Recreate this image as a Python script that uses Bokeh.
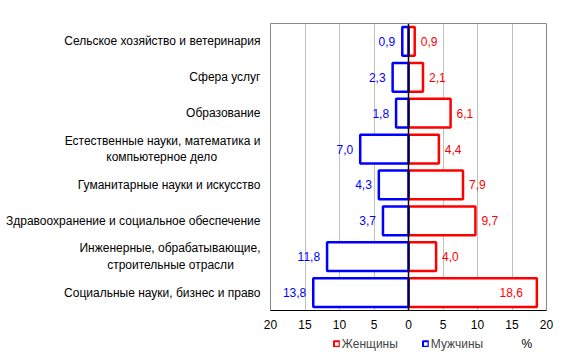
from bokeh.plotting import figure
from bokeh.models import (ColumnDataSource, FactorRange, FixedTicker, Span, Legend,
                          LegendItem)
from bokeh.layouts import column
from bokeh.core.properties import value
from bokeh.embed import file_html
from bokeh.resources import INLINE

categories = [
    "Сельское хозяйство и ветеринария",
    "Сфера услуг",
    "Образование",
    "Естественные науки, математика и\nкомпьютерное дело",
    "Гуманитарные науки и искусство",
    "Здравоохранение и социальное обеспечение",
    "Инженерные, обрабатывающие,\nстроительные отрасли",
    "Социальные науки, бизнес и право",
]
men = [0.9, 2.3, 1.8, 7.0, 4.3, 3.7, 11.8, 13.8]
women = [0.9, 2.1, 6.1, 4.4, 7.9, 9.7, 4.0, 18.6]
x_ticks = [-20, -15, -10, -5, 0, 5, 10, 15, 20]
series_names = ["Женщины", "Мужчины"]
unit_label = "%"

FONT = "Liberation Sans"
RED = "#ff0000"
BLUE = "#0000ff"

fmt = lambda v: f"{v:.1f}".replace(".", ",")

# approximate Arial/Liberation Sans advance widths (per 1000 em)
_W = dict(zip("абвгдежзийклмнопрстуфхцчшщъыьэюя",
              [556, 573, 531, 365, 583, 556, 669, 458, 559, 559, 438, 583, 688, 552,
               556, 542, 556, 500, 458, 500, 823, 500, 573, 521, 802, 823, 625, 719,
               521, 510, 750, 542]))
_W.update({" ": 278, ",": 278, "Е": 667, "И": 722})


def text_w(s, size=12):
    return sum(_W.get(ch, 556) for ch in s) * size / 1000


def center_lines(label):
    # emulate centred wrapping of multi-line category labels
    lines = label.split("\n")
    if len(lines) == 1:
        return label
    w = max(text_w(s) for s in lines)
    out = []
    for s in lines:
        pad = int(round((w - text_w(s)) / 2 / 3.34))
        out.append(s + "\u00a0" * pad + ("\u200b" if pad else ""))
    return "\n".join(out)


cats = [center_lines(c) for c in categories]

src = ColumnDataSource(dict(
    cat=cats,
    men_neg=[-v for v in men],
    women=women,
    men_lbl=[fmt(v) for v in men],
))
inside = [v > 15 for v in women]
src_w_out = ColumnDataSource(dict(
    cat=[c for c, i in zip(cats, inside) if not i],
    x=[v for v, i in zip(women, inside) if not i],
    lbl=[fmt(v) for v, i in zip(women, inside) if not i],
))
src_w_in = ColumnDataSource(dict(
    cat=[c for c, i in zip(cats, inside) if i],
    x=[v for v, i in zip(women, inside) if i],
    lbl=[fmt(v) for v, i in zip(women, inside) if i],
))

p = figure(width=561, height=334, output_backend="svg", toolbar_location=None,
           y_range=FactorRange(*reversed(cats), range_padding=0),
           x_range=(-20, 20),
           min_border_left=270, min_border_right=15, min_border_top=23, min_border_bottom=24)

p.outline_line_color = "#888888"
p.outline_line_width = 1
p.ygrid.grid_line_color = None
p.xgrid.grid_line_color = "#c0c0c0"
p.xgrid.ticker = FixedTicker(ticks=x_ticks)

p.hbar(y="cat", left=0, right="women", height=0.8, source=src,
       fill_color="white", line_color=RED, line_width=2.5)
p.hbar(y="cat", left="men_neg", right=0, height=0.8, source=src,
       fill_color="white", line_color=BLUE, line_width=2.5)

p.add_layout(Span(location=0, dimension="height", line_color="black", line_width=1.5))

p.text(x="men_neg", y="cat", text="men_lbl", source=src, x_offset=-7,
       text_align="right", text_baseline="middle", text_color=BLUE,
       text_font=value(FONT), text_font_size="12px")
p.text(x="x", y="cat", text="lbl", source=src_w_out, x_offset=6,
       text_align="left", text_baseline="middle", text_color=RED,
       text_font=value(FONT), text_font_size="12px")
p.text(x="x", y="cat", text="lbl", source=src_w_in, x_offset=-14,
       text_align="right", text_baseline="middle", text_color=RED,
       text_font=value(FONT), text_font_size="12px")

xa = p.xaxis[0]
xa.ticker = FixedTicker(ticks=x_ticks)
xa.major_label_overrides = {t: str(abs(t)) for t in x_ticks}
xa.axis_line_color = "black"
xa.major_tick_out = 0
xa.major_tick_in = 0
xa.minor_tick_out = 0
xa.minor_tick_in = 0
xa.major_label_standoff = 9
xa.major_label_text_font = FONT
xa.major_label_text_font_size = "12px"
xa.major_label_text_color = "black"

ya = p.yaxis[0]
ya.axis_line_color = None
ya.major_tick_out = 0
ya.major_tick_in = 0
ya.major_label_standoff = 10
ya.major_label_text_font = FONT
ya.major_label_text_font_size = "12px"
ya.major_label_text_color = "black"

# legend strip below the chart (frame aligned with the chart frame)
p2 = figure(width=561, height=25, output_backend="svg", toolbar_location=None,
            x_range=(270, 546), y_range=(0, 19),
            min_border_left=270, min_border_right=15, min_border_top=0, min_border_bottom=6)
p2.axis.visible = False
p2.grid.visible = False
p2.outline_line_color = None
# legend-key renderers: one undrawable (NaN) row so only the legend glyphs show
nan = float("nan")
key_src = ColumnDataSource(dict(y=[nan], left=[nan], right=[nan]))
lw = p2.hbar(y="y", left="left", right="right", height=1, source=key_src,
             fill_color="white", line_color=RED, line_width=2)
lm = p2.hbar(y="y", left="left", right="right", height=1, source=key_src,
             fill_color="white", line_color=BLUE, line_width=2)
legend = Legend(items=[LegendItem(label=series_names[0], renderers=[lw]),
                       LegendItem(label=series_names[1], renderers=[lm])],
                orientation="horizontal", location="center",
                glyph_width=7, glyph_height=7, label_text_font=FONT,
                label_text_font_size="12px", spacing=24, padding=0, margin=0,
                label_standoff=2, border_line_color=None, background_fill_alpha=0,
                label_height=12)
p2.add_layout(legend)
p2.text(x=[521], y=[9.5], text=[unit_label], text_font=value(FONT),
        text_font_size="12px", text_baseline="middle", text_color="black")

open("out.html", "w").write(file_html(column(p, p2), INLINE))
